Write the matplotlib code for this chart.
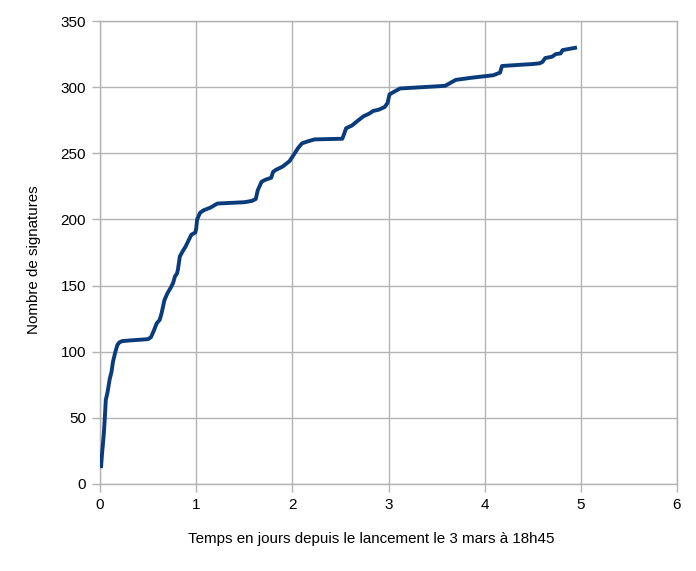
import matplotlib
matplotlib.use('Agg')

import matplotlib.pyplot as plt

# jours depuis le lancement / nombre cumulé de signatures
days = [0.01, 0.02, 0.03, 0.04, 0.05, 0.06, 0.08, 0.10, 0.12, 0.135,
        0.16, 0.18, 0.20, 0.23, 0.31, 0.50, 0.53, 0.56, 0.59, 0.62, 0.64,
        0.67, 0.70, 0.74, 0.76, 0.78, 0.80, 0.81, 0.83, 0.86, 0.89, 0.92,
        0.95, 0.99, 1.00, 1.01, 1.04, 1.08, 1.15, 1.22, 1.50, 1.58, 1.62,
        1.64, 1.68, 1.72, 1.78, 1.80, 1.83, 1.90, 1.97, 2.02, 2.06, 2.10,
        2.16, 2.23, 2.52, 2.54, 2.56, 2.62, 2.67, 2.74, 2.80, 2.84, 2.90,
        2.96, 2.99, 3.01, 3.07, 3.12, 3.59, 3.65, 3.70, 3.85, 4.09, 4.16,
        4.18, 4.50, 4.57, 4.60, 4.63, 4.70, 4.74, 4.79, 4.81, 4.96]
signatures = [12, 22, 30, 38.5, 50, 63.5, 70, 79, 85, 92.5, 100, 105,
              107, 108, 108.5, 109.5, 111, 116, 121.5, 124, 129, 139,
              144, 149, 152, 157, 159, 162, 172, 176, 179.5, 184, 188.5,
              190, 193, 200, 205, 207, 209, 212, 213, 214, 215.5, 222,
              228.5, 230, 231.5, 236, 237.5, 240, 244, 249.5, 254, 257.5,
              259, 260.5, 261, 265, 269, 271, 274, 278, 280, 282, 283,
              285, 288, 294.5, 297, 299, 301, 303.5, 305.5, 307, 309,
              311, 316, 317.5, 318, 319, 322, 323, 325, 325.5, 328, 330]

plt.rcParams['font.family'] = ['Liberation Sans', 'DejaVu Sans']

fig = plt.figure(figsize=(6.96, 5.71), dpi=100)
ax = fig.add_axes([0.1437, 0.1524, 0.8290, 0.8108])

ax.plot(days, signatures, color='#0a3c7c', linewidth=2.8,
        solid_capstyle='butt', solid_joinstyle='round', zorder=3)

ax.set_xlim(0, 6)
ax.set_ylim(0, 350)
ax.set_xticks(range(0, 7))
ax.set_yticks(range(0, 351, 50))
ax.grid(True, color='#b3b3b3', linewidth=1.0)
ax.set_axisbelow(True)

for side in ['top', 'right', 'left', 'bottom']:
    ax.spines[side].set_color('#b3b3b3')
    ax.spines[side].set_linewidth(1.0)

ax.tick_params(axis='both', colors='#b3b3b3', length=6, width=1.0,
               labelcolor='black', labelsize=11, pad=4)

ax.set_xlabel('Temps en jours depuis le lancement le 3 mars à 18h45',
              fontsize=10.9)
ax.set_ylabel('Nombre de signatures', fontsize=10.9)
ax.xaxis.set_label_coords(0.47, -0.103)
ax.yaxis.set_label_coords(-0.102, 0.484)

fig.savefig('out.png', dpi=100)
